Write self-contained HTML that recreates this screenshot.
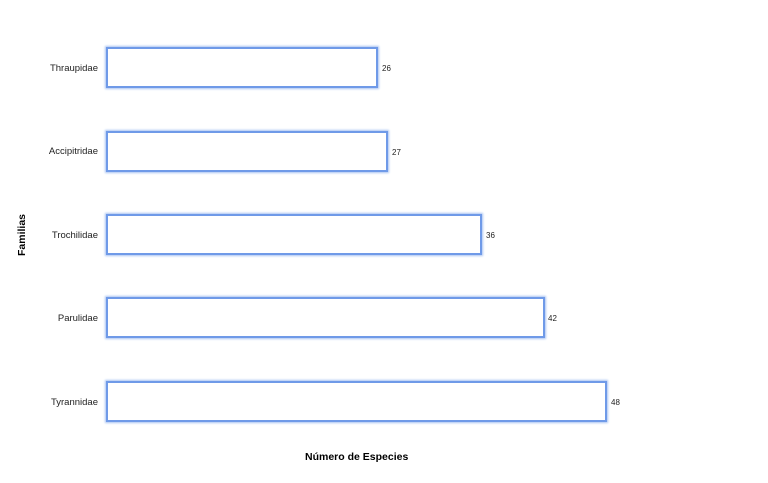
<!DOCTYPE html>
<html><head><style>
body{margin:0;width:768px;height:483px;background:#fff;position:relative;font-family:"Liberation Sans",sans-serif;overflow:hidden}
.bar{position:absolute;left:106px;height:38px;border:2px solid #6f9ae8;box-shadow:0 0 2px 1px #a9c3f2;background:#fff;box-sizing:border-box}
.lab{position:absolute;font-size:9.5px;color:#222;text-align:right;width:98px;left:0}
.val{position:absolute;font-size:8px;color:#222}
</style></head><body>
<div class="bar" style="top:47px;width:272px;height:41px"></div>
<div class="bar" style="top:131px;width:282px;height:41px"></div>
<div class="bar" style="top:214px;width:376px;height:41px"></div>
<div class="bar" style="top:297px;width:439px;height:41px"></div>
<div class="bar" style="top:381px;width:501px;height:41px"></div>
<div class="lab" style="top:63px">Thraupidae</div>
<div class="lab" style="top:146px">Accipitridae</div>
<div class="lab" style="top:230px">Trochilidae</div>
<div class="lab" style="top:313px">Parulidae</div>
<div class="lab" style="top:397px">Tyrannidae</div>
<div class="val" style="left:382px;top:64px">26</div>
<div class="val" style="left:392px;top:148px">27</div>
<div class="val" style="left:486px;top:231px">36</div>
<div class="val" style="left:548px;top:314px">42</div>
<div class="val" style="left:611px;top:398px">48</div>
<div style="position:absolute;left:305px;top:451px;font-size:10.5px;font-weight:bold">Número de Especies</div>
<div style="position:absolute;left:-8px;top:229px;font-size:10.5px;font-weight:bold;transform:rotate(-90deg);width:60px;text-align:center">Familias</div>
</body></html>
